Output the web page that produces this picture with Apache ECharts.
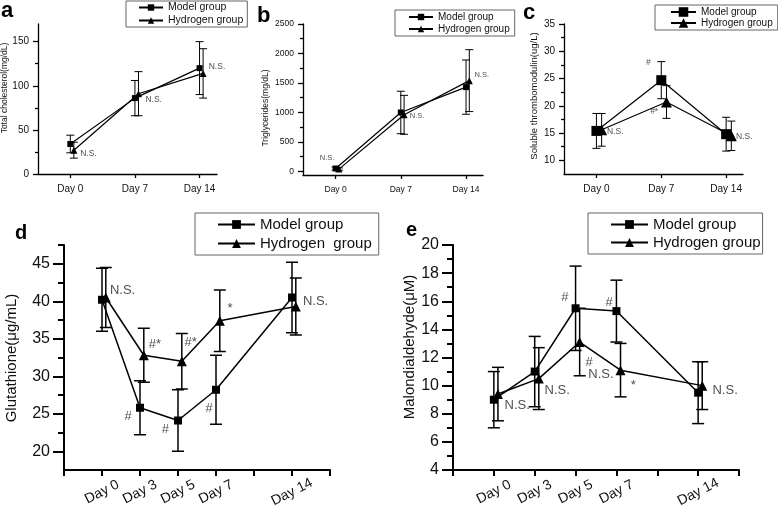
<!DOCTYPE html>
<html>
<head>
<meta charset="utf-8">
<script src="https://cdn.jsdelivr.net/npm/echarts@6/dist/echarts.min.js"></script>
<style>
  body { margin: 0; background: #fff; }
  #wrap { position: relative; width: 778px; height: 510px; }
  .panel { position: absolute; }
</style>
</head>
<body>
<div id="wrap">
  <div id="pa" class="panel" style="left:0;top:0;width:258px;height:210px"></div>
  <div id="pb" class="panel" style="left:258px;top:0;width:262px;height:210px"></div>
  <div id="pc" class="panel" style="left:520px;top:0;width:258px;height:210px"></div>
  <div id="pd" class="panel" style="left:0;top:210px;width:389px;height:300px"></div>
  <div id="pe" class="panel" style="left:389px;top:210px;width:389px;height:300px"></div>
</div>
<script>
// x categories
const shortDays = ['Day 0', 'Day 7', 'Day 14']
const shortPos = [0, 1, 2]
const longDays = ['Day 0', 'Day 3', 'Day 5', 'Day 7', 'Day 14']
const longPos = [1, 2, 3, 4, 6]
const longTicks = [0, 1, 2, 3, 4, 5, 6, 7]

// a - total cholesterol
const cholModel = [34, 86, 120]
const cholModelSd = [10, 20, 30]
const cholHydro = [27, 91, 114]
const cholHydroSd = [9, 25, 28]
const cholTicks = [0, 50, 100, 150]
const cholMinor = [25, 75, 125]
const cholNotes = [[0.28, 23, 'N.S.'], [1.29, 84, 'N.S.'], [2.27, 122, 'N.S.']]

// b - triglycerides
const tgModel = [50, 1000, 1430]
const tgModelSd = [25, 360, 460]
const tgHydro = [40, 960, 1540]
const tgHydroSd = [20, 330, 525]
const tgTicks = [0, 500, 1000, 1500, 2000, 2500]
const tgMinor = [250, 750, 1250, 1750, 2250]
const tgNotes = [[-0.13, 228, 'N.S.'], [1.25, 934, 'N.S.'], [2.24, 1642, 'N.S.']]

// c - soluble thrombomodulin
const tmModel = [15.4, 24.7, 14.8]
const tmModelSd = [3.2, 3.4, 3.1]
const tmHydro = [15.6, 20.7, 14.5]
const tmHydroSd = [3.0, 3.0, 2.7]
const tmTicks = [10, 15, 20, 25, 30, 35]
const tmMinor = [12.5, 17.5, 22.5, 27.5, 32.5]
const tmNotes = [[0.29, 15.2, 'N.S.'], [0.8, 27.9, '#'], [0.89, 19.0, '#*'], [2.28, 14.4, 'N.S.']]

// d - glutathione
const gshModel = [40.2, 25.8, 24.1, 28.2, 40.5]
const gshModelSd = [4.2, 3.6, 4.1, 4.6, 4.7]
const gshHydro = [40.5, 32.8, 32.0, 37.4, 39.3]
const gshHydroSd = [4.0, 3.6, 3.7, 4.1, 3.8]
const gshTicks = [20, 25, 30, 35, 40, 45]
const gshMinor = [22.5, 27.5, 32.5, 37.5, 42.5, 47.5]
const gshNotes = [[1.54, 41.5, 'N.S.'], [1.69, 24.7, '#'], [2.39, 34.2, '#*'], [2.67, 22.9, '#'],
  [3.33, 34.5, '#*'], [3.82, 25.7, '#'], [4.37, 39.1, '*'], [6.62, 40.0, 'N.S.']]

// e - malondialdehyde
const mdaModel = [9.0, 11.0, 15.5, 15.3, 9.5]
const mdaModelSd = [2.0, 2.5, 3.0, 2.2, 2.2]
const mdaHydro = [9.4, 10.5, 13.1, 11.1, 10.0]
const mdaHydroSd = [1.9, 2.2, 2.4, 1.9, 1.7]
const mdaTicks = [4, 6, 8, 10, 12, 14, 16, 18, 20]
const mdaMinor = [5, 7, 9, 11, 13, 15, 17, 19]
const mdaNotes = [[1.57, 8.6, 'N.S.'], [2.55, 9.64, 'N.S.'], [2.74, 16.26, '#'], [3.33, 11.67, '#'],
  [3.62, 10.8, 'N.S.'], [3.82, 15.95, '#'], [4.41, 10.0, '*'], [6.66, 9.64, 'N.S.']]

const FONT = '"Liberation Sans", Arial, sans-serif'
const BLK = '#000'

// styles for the small (top row) and big (bottom row) panels
const smallStyle = {
  lineW: 1.2, errW: 1, cap: 8, axisW: 1.3, majorLen: 5, minorLen: 3, xTickLen: 4,
  tickFont: 10, dayFont: 10, noteFont: 8.5, legendFont: 10.5, nameFont: 8.5, letterFont: 22,
  sq: 6, tri: 7, yMargin: 9, xMargin: 10, rotate: 0
}
const bigStyle = {
  lineW: 1.5, errW: 1.5, cap: 12, axisW: 2, majorLen: 11, minorLen: 6, xTickLen: 6,
  tickFont: 16, dayFont: 14, noteFont: 13, legendFont: 15, nameFont: 15, letterFont: 20,
  sq: 8, tri: 10, yMargin: 14, xMargin: 22, rotate: 27
}

function buildPanel(id, cfg) {
  const chart = echarts.init(document.getElementById(id))
  const st = Object.assign({}, cfg.style, cfg.over || {})
  const hx = cfg.pos.map(p => p + cfg.shift)

  const lineSeries = (name, xs, ys, symbol, size) => ({
    name: name,
    type: 'line',
    data: xs.map((x, i) => [x, ys[i]]),
    symbol: symbol,
    symbolSize: size,
    clip: false,
    z: 3,
    lineStyle: { color: BLK, width: st.lineW },
    itemStyle: { color: BLK }
  })

  // error bars: vertical line with a cap at each end
  const errSeries = (xs, ys, sd) => ({
    type: 'custom',
    data: xs.map((x, i) => [x, ys[i] - sd[i], ys[i] + sd[i]]),
    encode: { x: 0, y: [1, 2] },
    silent: true,
    z: 2,
    renderItem: function(params, api) {
      const hi = api.coord([api.value(0), api.value(2)])
      const lo = api.coord([api.value(0), api.value(1)])
      const w = st.cap / 2
      const s = { stroke: BLK, lineWidth: st.errW }
      return {
        type: 'group',
        children: [
          { type: 'line', shape: { x1: hi[0], y1: hi[1], x2: lo[0], y2: lo[1] }, style: s },
          { type: 'line', shape: { x1: hi[0] - w, y1: hi[1], x2: hi[0] + w, y2: hi[1] }, style: s },
          { type: 'line', shape: { x1: lo[0] - w, y1: lo[1], x2: lo[0] + w, y2: lo[1] }, style: s }
        ]
      }
    }
  })

  const option = {
    animation: false,
    textStyle: { fontFamily: FONT },
    grid: cfg.grid,
    legend: Object.assign({
      orient: 'vertical',
      selectedMode: false,
      borderColor: '#666',
      borderWidth: 1,
      itemGap: cfg.legend.gap,
      itemWidth: cfg.legend.iconW,
      itemHeight: cfg.legend.iconH,
      textStyle: { fontSize: st.legendFont, color: '#111', fontFamily: FONT },
      data: cfg.names
    }, cfg.legend.box),
    graphic: [
      { type: 'text', x: cfg.letterAt[0], y: cfg.letterAt[1],
        style: { text: cfg.letter, font: 'bold ' + st.letterFont + 'px ' + FONT, fill: BLK, verticalAlign: 'middle' } },
      { type: 'text', x: cfg.nameAt[0], y: cfg.nameAt[1], rotation: Math.PI / 2,
        style: { text: cfg.yName, font: st.nameFont + 'px ' + FONT, fill: '#111', align: 'center', verticalAlign: 'middle' } }
    ],
    xAxis: {
      type: 'value',
      min: cfg.xMin,
      max: cfg.xMax,
      splitLine: { show: false },
      axisLine: { onZero: false, lineStyle: { color: BLK, width: st.axisW } },
      axisTick: { show: true, customValues: cfg.xTicks, length: st.xTickLen, lineStyle: { color: BLK, width: st.axisW } },
      axisLabel: {
        customValues: cfg.pos,
        formatter: v => cfg.days[cfg.pos.indexOf(v)] || '',
        fontSize: st.dayFont,
        color: '#111',
        margin: st.xMargin,
        rotate: st.rotate,
        align: 'center',
        verticalAlign: st.rotate ? 'middle' : 'top'
      }
    },
    yAxis: [
      {
        type: 'value',
        position: 'left',
        min: cfg.yMin,
        max: cfg.yMax,
        splitLine: { show: false },
        axisLine: { show: true, onZero: false, lineStyle: { color: BLK, width: st.axisW } },
        axisTick: { show: true, customValues: cfg.yTicks, length: st.majorLen, lineStyle: { color: BLK, width: st.axisW } },
        axisLabel: { customValues: cfg.yTicks, formatter: v => String(v), fontSize: st.tickFont, color: '#111', margin: st.yMargin }
      },
      {
        // minor ticks only
        type: 'value',
        position: 'left',
        min: cfg.yMin,
        max: cfg.yMax,
        splitLine: { show: false },
        axisLine: { show: false, onZero: false },
        axisTick: { show: true, customValues: cfg.yMinor, length: st.minorLen, lineStyle: { color: BLK, width: st.axisW } },
        axisLabel: { show: false }
      }
    ],
    series: [
      errSeries(cfg.pos, cfg.model, cfg.modelSd),
      errSeries(hx, cfg.hydro, cfg.hydroSd),
      lineSeries(cfg.names[0], cfg.pos, cfg.model, 'rect', st.sq),
      lineSeries(cfg.names[1], hx, cfg.hydro, 'triangle', st.tri),
      {
        type: 'scatter',
        silent: true,
        clip: false,
        symbolSize: 1,
        itemStyle: { color: 'transparent' },
        data: cfg.notes.map(n => ({ value: [n[0], n[1]], name: n[2] })),
        label: { show: true, position: 'inside', formatter: '{b}', color: '#222', fontSize: st.noteFont }
      }
    ]
  }

  option && chart.setOption(option)
}

buildPanel('pa', {
  style: smallStyle, letter: 'a', letterAt: [1, 11], yName: 'Total cholesterol(mg/dL)', nameAt: [5, 88],
  grid: { left: 38, top: 24, width: 179, height: 150 },
  xMin: -0.5, xMax: 2.27, xTicks: shortPos, pos: shortPos, days: shortDays, shift: 0.055,
  yMin: 0, yMax: 170, yTicks: cholTicks, yMinor: cholMinor,
  model: cholModel, modelSd: cholModelSd, hydro: cholHydro, hydroSd: cholHydroSd, notes: cholNotes,
  names: ['Model group', 'Hydrogen group'],
  legend: { box: { left: 126, top: 1, padding: [1, 4, 1, 12] }, gap: 2, iconW: 24, iconH: 8 }
})

buildPanel('pb', {
  style: smallStyle, over: { tickFont: 8.5, dayFont: 8.5, noteFont: 7.5, legendFont: 10 },
  letter: 'b', letterAt: [-1, 16], yName: 'Triglycerides(mg/dL)', nameAt: [8, 108],
  grid: { left: 45, top: 24, width: 180, height: 151 },
  xMin: -0.5, xMax: 2.26, xTicks: shortPos, pos: shortPos, days: shortDays, shift: 0.05,
  yMin: -60, yMax: 2500, yTicks: tgTicks, yMinor: tgMinor,
  model: tgModel, modelSd: tgModelSd, hydro: tgHydro, hydroSd: tgHydroSd, notes: tgNotes,
  names: ['Model group', 'Hydrogen group'],
  legend: { box: { left: 137, top: 10, padding: [2, 5, 2, 13] }, gap: 2, iconW: 24, iconH: 8 }
})

buildPanel('pc', {
  style: smallStyle, over: { sq: 10, tri: 11, legendFont: 10, nameFont: 9.5 },
  letter: 'c', letterAt: [3, 13], yName: 'Soluble thrombomodulin(ug/L)', nameAt: [14, 96],
  grid: { left: 44, top: 24, width: 179, height: 150 },
  xMin: -0.5, xMax: 2.26, xTicks: shortPos, pos: shortPos, days: shortDays, shift: 0.08,
  yMin: 7.5, yMax: 35, yTicks: tmTicks, yMinor: tmMinor,
  model: tmModel, modelSd: tmModelSd, hydro: tmHydro, hydroSd: tmHydroSd, notes: tmNotes,
  names: ['Model group', 'Hydrogen group'],
  legend: { box: { left: 135, top: 5, padding: [2, 5, 2, 15] }, gap: 1, iconW: 25, iconH: 12 }
})

buildPanel('pd', {
  style: bigStyle, letter: 'd', letterAt: [15, 23], yName: 'Glutathione(μg/mL)', nameAt: [12, 148],
  grid: { left: 64, top: 35, width: 266, height: 225 },
  xMin: 0, xMax: 7, xTicks: longTicks, pos: longPos, days: longDays, shift: 0.1,
  yMin: 17.5, yMax: 47.5, yTicks: gshTicks, yMinor: gshMinor,
  model: gshModel, modelSd: gshModelSd, hydro: gshHydro, hydroSd: gshHydroSd, notes: gshNotes,
  names: ['Model group', 'Hydrogen  group'],
  legend: { box: { left: 195, top: 3, padding: [4, 7, 4, 22] }, gap: 4, iconW: 37, iconH: 11 }
})

buildPanel('pe', {
  style: bigStyle, letter: 'e', letterAt: [17, 20], yName: 'Malondialdehyde(μM)', nameAt: [21, 137],
  grid: { left: 64, top: 35, width: 286, height: 225 },
  xMin: 0, xMax: 7, xTicks: longTicks, pos: longPos, days: longDays, shift: 0.1,
  yMin: 4, yMax: 20, yTicks: mdaTicks, yMinor: mdaMinor,
  model: mdaModel, modelSd: mdaModelSd, hydro: mdaHydro, hydroSd: mdaHydroSd, notes: mdaNotes,
  names: ['Model group', 'Hydrogen group'],
  legend: { box: { left: 199, top: 3, padding: [4, 2, 4, 22] }, gap: 3, iconW: 37, iconH: 11 }
})
</script>
</body>
</html>
